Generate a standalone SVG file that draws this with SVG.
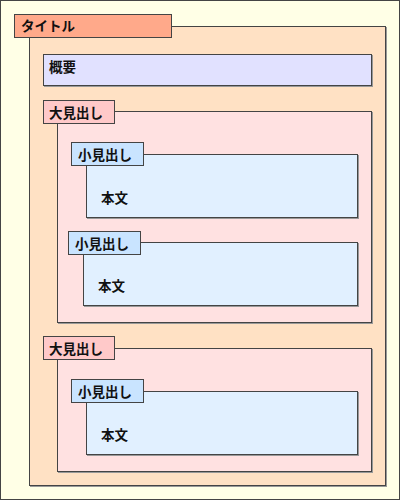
<svg xmlns="http://www.w3.org/2000/svg" width="400" height="500" viewBox="0 0 400 500">
<style>
.sh{fill:#999;}
.box{stroke:#444;stroke-width:1;}
.t{font-family:"Liberation Sans","Noto Sans CJK JP",sans-serif;font-size:13.5px;font-weight:bold;fill:#111;}
.page{fill:#ffffe6;}
.title{fill:#ffa98a;}
.sec{fill:#ffe1c4;}
.sum{fill:#e1e1ff;}
.h1{fill:#ffc9c9;}
.h1b{fill:#ffe1e1;}
.h2{fill:#c9e4ff;}
.h2b{fill:#e1f0ff;}
</style>
<g id="page">
<rect class="page box" x="0.5" y="0.5" width="399" height="499" stroke="#333"/>
</g>
<g id="section">
<rect class="sh" x="30" y="27" width="357" height="460"/>
<rect class="sec box" x="29.5" y="26.5" width="356" height="459"/>
</g>
<g id="title">
<rect class="title box" x="14.5" y="14.5" width="157" height="23"/>
<text class="t" x="21" y="31">タイトル</text>
</g>
<g id="summary">
<rect class="sh" x="44" y="55" width="329" height="32"/>
<rect class="sum box" x="43.5" y="54.5" width="328" height="31"/>
<text class="t" x="49" y="71.5">概要</text>
</g>
<g id="h1-1">
<rect class="sh" x="58" y="112" width="315" height="212"/>
<rect class="h1b box" x="57.5" y="111.5" width="314" height="211"/>
<rect class="h1 box" x="43.5" y="100.5" width="71" height="23"/>
<text class="t" x="49" y="117.5">大見出し</text>
</g>
<g id="h2-1">
<rect class="sh" x="87" y="155" width="272" height="64"/>
<rect class="h2b box" x="86.5" y="154.5" width="271" height="63"/>
<rect class="h2 box" x="71.5" y="142.5" width="72" height="23"/>
<text class="t" x="78" y="160">小見出し</text>
<text class="t" x="101" y="202.5">本文</text>
</g>
<g id="h2-2">
<rect class="sh" x="84" y="243" width="275" height="64"/>
<rect class="h2b box" x="83.5" y="242.5" width="274" height="63"/>
<rect class="h2 box" x="68.5" y="231.5" width="72" height="23"/>
<text class="t" x="75" y="248.5">小見出し</text>
<text class="t" x="98" y="291">本文</text>
</g>
<g id="h1-2">
<rect class="sh" x="58" y="349" width="315" height="124"/>
<rect class="h1b box" x="57.5" y="348.5" width="314" height="123"/>
<rect class="h1 box" x="43.5" y="336.5" width="71" height="23"/>
<text class="t" x="49" y="353.5">大見出し</text>
</g>
<g id="h2-3">
<rect class="sh" x="87" y="392" width="272" height="64"/>
<rect class="h2b box" x="86.5" y="391.5" width="271" height="63"/>
<rect class="h2 box" x="71.5" y="379.5" width="72" height="23"/>
<text class="t" x="78" y="397">小見出し</text>
<text class="t" x="101" y="439.5">本文</text>
</g>
</svg>
